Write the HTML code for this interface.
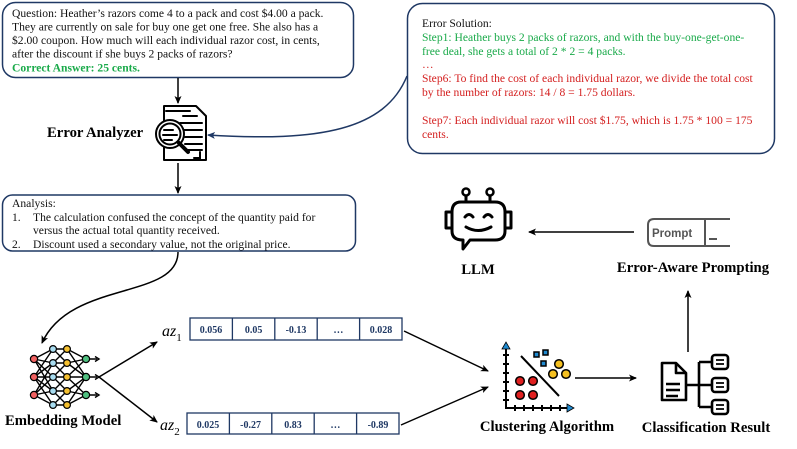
<!DOCTYPE html>
<html><head><meta charset="utf-8"><style>
html,body{margin:0;padding:0;background:#fff;}
svg{display:block;font-family:"Liberation Serif",serif;}
</style></head><body>
<svg width="797" height="449" viewBox="0 0 797 449" xmlns="http://www.w3.org/2000/svg">
<defs>
<marker id="a" markerWidth="8" markerHeight="8" refX="7" refY="4" orient="auto" markerUnits="userSpaceOnUse"><path d="M0,0.5 L8,4 L0,7.5 L2,4z" fill="#000"/></marker>
<marker id="b" markerWidth="8" markerHeight="8" refX="7" refY="4" orient="auto" markerUnits="userSpaceOnUse"><path d="M0,0.5 L8,4 L0,7.5 L2,4z" fill="#1f3864"/></marker>
</defs>
<rect x="2.5" y="2.5" width="351" height="75" rx="13" fill="#fff" stroke="#1f3864" stroke-width="1.5"/>
<g font-size="11.6" fill="#111">
<text x="12" y="17">Question: Heather’s razors come 4 to a pack and cost $4.00 a pack.</text>
<text x="12" y="30.5">They are currently on sale for buy one get one free. She also has a</text>
<text x="12" y="44">$2.00 coupon. How much will each individual razor cost, in cents,</text>
<text x="12" y="57.5">after the discount if she buys 2 packs of razors?</text>
<text x="12" y="71.5" fill="#1aaa4a" font-weight="bold">Correct Answer: 25 cents.</text>
</g>
<line x1="178" y1="78" x2="178" y2="103" stroke="#000" stroke-width="1.5" marker-end="url(#a)"/>
<g fill="none" stroke="#000" stroke-width="2" stroke-linecap="round">
<path d="M164,106 H196 L206,116 V160 H164 Z" stroke-linejoin="round"/>
<path d="M166,111 H190 M183,116 H197 M180,123 H202 M184,130 H202 M185,137 H202 M185,144 H202 M188,150 H202 M200,152 V158 H194"/>
<circle cx="170" cy="134" r="14" fill="#fff"/>
<circle cx="170" cy="134" r="10.5"/>
<path d="M164,130 H173 M163,135 H177 M164,140 H172"/>
<path d="M179,143 L188,152" stroke-width="4"/>
</g>
<text x="47" y="137" font-size="14.7" font-weight="bold">Error Analyzer</text>
<line x1="178" y1="163" x2="178" y2="193" stroke="#000" stroke-width="1.5" marker-end="url(#a)"/>
<rect x="2.5" y="195" width="353" height="56" rx="10" fill="#fff" stroke="#1f3864" stroke-width="1.5"/>
<g font-size="11.6" fill="#111">
<text x="12" y="207">Analysis:</text>
<text x="12" y="221">1.</text><text x="33" y="221">The calculation confused the concept of the quantity paid for</text>
<text x="33" y="234">versus the actual total quantity received.</text>
<text x="12" y="248">2.</text><text x="33" y="248">Discount used a secondary value, not the original price.</text>
</g>
<path d="M178,252 C178,300 70,280 42,343" fill="none" stroke="#000" stroke-width="1.5" marker-end="url(#a)"/>
<rect x="407.5" y="3.5" width="367" height="150" rx="15" fill="#fff" stroke="#1f3864" stroke-width="1.5"/>
<g font-size="11.6">
<text x="422" y="27" fill="#111">Error Solution:</text>
<text x="422" y="41" fill="#1aaa4a">Step1: Heather buys 2 packs of razors, and with the buy-one-get-one-</text>
<text x="422" y="55" fill="#1aaa4a">free deal, she gets a total of 2 * 2 = 4 packs.</text>
<text x="422" y="68" fill="#d42020">…</text>
<text x="422" y="82" fill="#d42020">Step6: To find the cost of each individual razor, we divide the total cost</text>
<text x="422" y="96" fill="#d42020">by the number of razors: 14 / 8 = 1.75 dollars.</text>
<text x="422" y="124" fill="#d42020">Step7: Each individual razor will cost $1.75, which is 1.75 * 100 = 175</text>
<text x="422" y="138" fill="#d42020">cents.</text>
</g>
<path d="M407,76 C385,130 320,142 208,135" fill="none" stroke="#1f3864" stroke-width="1.5" marker-end="url(#b)"/>
<g fill="none" stroke="#000" stroke-width="3" stroke-linecap="round" stroke-linejoin="round">
<circle cx="466" cy="192" r="3.5" stroke-width="2.5"/><circle cx="490" cy="192" r="3.5" stroke-width="2.5"/>
<path d="M466,196 V202 M490,196 V202"/>
<path d="M461,202 H495 Q505,202 505,212 V231 Q505,240 495,240 H470 L463,249 V240 Q452,240 452,231 V212 Q452,202 461,202 Z"/>
<path d="M452,212 H446 V228 H452 M505,212 H511 V228 H505"/>
<path d="M465,217 Q469,212 473,217 M484,217 Q488,212 492,217"/>
<path d="M466,227 Q478,234 491,227"/>
</g>
<text x="478" y="274" font-size="14.7" font-weight="bold" text-anchor="middle">LLM</text>
<line x1="634" y1="232" x2="529" y2="232" stroke="#000" stroke-width="1.5" marker-end="url(#a)"/>
<path d="M730,219 H654 Q648,219 648,225 V240 Q648,246 654,246 H730" fill="none" stroke="#555" stroke-width="2"/>
<line x1="705" y1="219" x2="705" y2="246" stroke="#555" stroke-width="2"/>
<text x="652" y="237" font-family="Liberation Sans,sans-serif" font-size="11.5" font-weight="bold" fill="#555">Prompt</text>
<line x1="709" y1="239" x2="717" y2="239" stroke="#555" stroke-width="2"/>
<text x="693" y="272" font-size="14.7" font-weight="bold" text-anchor="middle">Error-Aware Prompting</text>
<line x1="688" y1="352" x2="688" y2="291" stroke="#000" stroke-width="1.5" marker-end="url(#a)"/>
<g stroke="#000" stroke-width="1.4">
<path d="M34,359 L53,349 M34,359 L53,363 M34,359 L53,377 M34,359 L53,391 M34,377 L53,349 M34,377 L53,363 M34,377 L53,377 M34,377 L53,391 M34,377 L53,405 M34,395 L53,363 M34,395 L53,377 M34,395 L53,391 M34,395 L53,405"/>
<path d="M53,349 L67,349 M53,349 L67,363 M53,363 L67,349 M53,363 L67,377 M53,363 L67,363 M53,377 L67,363 M53,377 L67,391 M53,377 L67,377 M53,391 L67,377 M53,391 L67,405 M53,391 L67,391 M53,405 L67,391 M53,405 L67,405"/>
<path d="M67,349 L86,359 M67,363 L86,359 M67,363 L86,377 M67,377 L86,359 M67,377 L86,377 M67,377 L86,395 M67,391 L86,377 M67,391 L86,395 M67,405 L86,395 M67,349 L86,377 M67,405 L86,377"/>
<path d="M86,359 H97 M86,377 H97 M86,395 H97"/>
</g>
<path d="M95,356.5 L99,359 L95,361.5 M95,374.5 L99,377 L95,379.5 M95,392.5 L99,395 L95,397.5" fill="none" stroke="#000" stroke-width="1.4"/>
<g stroke="#000" stroke-width="1.2">
<circle cx="34" cy="359" r="3.6" fill="#f06060"/><circle cx="34" cy="377" r="3.6" fill="#f06060"/><circle cx="34" cy="395" r="3.6" fill="#f06060"/>
<circle cx="53" cy="349" r="3.4" fill="#a8dcf0"/><circle cx="53" cy="363" r="3.4" fill="#a8dcf0"/><circle cx="53" cy="377" r="3.4" fill="#a8dcf0"/><circle cx="53" cy="391" r="3.4" fill="#a8dcf0"/><circle cx="53" cy="405" r="3.4" fill="#a8dcf0"/>
<circle cx="67" cy="349" r="3.4" fill="#f5c030"/><circle cx="67" cy="363" r="3.4" fill="#f5c030"/><circle cx="67" cy="377" r="3.4" fill="#f5c030"/><circle cx="67" cy="391" r="3.4" fill="#f5c030"/><circle cx="67" cy="405" r="3.4" fill="#f5c030"/>
<circle cx="86" cy="359" r="3.6" fill="#50c080"/><circle cx="86" cy="377" r="3.6" fill="#50c080"/><circle cx="86" cy="395" r="3.6" fill="#50c080"/>
</g>
<text x="5" y="425" font-size="14.7" font-weight="bold">Embedding Model</text>
<line x1="99" y1="377" x2="157" y2="342" stroke="#000" stroke-width="1.5" marker-end="url(#a)"/>
<line x1="99" y1="377" x2="157" y2="422" stroke="#000" stroke-width="1.5" marker-end="url(#a)"/>
<text x="162" y="336" font-size="16" font-style="italic">az<tspan font-size="11" font-style="normal" dy="5">1</tspan></text>
<text x="160" y="430" font-size="16" font-style="italic">az<tspan font-size="11" font-style="normal" dy="5">2</tspan></text>
<g fill="none" stroke="#1f3864" stroke-width="1.3">
<rect x="190" y="318" width="212" height="22"/>
<path d="M232.4,318 V340 M274.8,318 V340 M317.2,318 V340 M359.6,318 V340"/>
<rect x="187" y="413" width="212" height="21"/>
<path d="M229.4,413 V434 M271.8,413 V434 M314.2,413 V434 M356.6,413 V434"/>
</g>
<g font-size="10" font-weight="bold" fill="#1f3864" text-anchor="middle">
<text x="211" y="333">0.056</text><text x="253.6" y="333">0.05</text><text x="296" y="333">-0.13</text><text x="338.4" y="333">…</text><text x="381" y="333">0.028</text>
<text x="208" y="428">0.025</text><text x="250.6" y="428">-0.27</text><text x="293" y="428">0.83</text><text x="335.4" y="428">…</text><text x="378" y="428">-0.89</text>
</g>
<line x1="404" y1="331" x2="488" y2="371" stroke="#000" stroke-width="1.5" marker-end="url(#a)"/>
<line x1="401" y1="425" x2="488" y2="387" stroke="#000" stroke-width="1.5" marker-end="url(#a)"/>
<g stroke="#000" stroke-width="2" fill="none">
<path d="M506,348 V408 H568"/>
<path d="M503,355 H509 M503,364 H509 M503,373 H509 M503,382 H509 M503,391 H509 M503,400 H509 M515,405 V411 M524,405 V411 M533,405 V411 M542,405 V411 M551,405 V411 M560,405 V411"/>
<path d="M521,356 L559,396"/>
</g>
<path d="M502,349 L506,342 L510,349Z M567,404 L574,408 L567,412Z" fill="#1f8ad0" stroke="#000" stroke-width="0.8"/>
<g stroke="#000" stroke-width="1.5">
<circle cx="520" cy="381" r="4.3" fill="#e02020"/><circle cx="533" cy="381" r="4.3" fill="#e02020"/><circle cx="520" cy="395" r="4.3" fill="#e02020"/><circle cx="533" cy="395" r="4.3" fill="#e02020"/>
<circle cx="559" cy="364" r="4.3" fill="#f5c020"/><circle cx="553" cy="374" r="4.3" fill="#f5c020"/><circle cx="566" cy="374" r="4.3" fill="#f5c020"/>
<rect x="534" y="352" width="5" height="5" fill="#1f8ad0"/><rect x="543" y="350" width="5" height="5" fill="#1f8ad0"/><rect x="541" y="361" width="5" height="5" fill="#1f8ad0"/>
</g>
<text x="547" y="431" font-size="14.7" font-weight="bold" text-anchor="middle">Clustering Algorithm</text>
<line x1="575" y1="378" x2="636" y2="378" stroke="#000" stroke-width="1.5" marker-end="url(#a)"/>
<g stroke="#000" stroke-width="2.6" fill="none" stroke-linejoin="round">
<path d="M662,363 H676 L686,373 V400 H662 Z"/>
<path d="M676,363 V373 H686"/>
<path d="M666,384 H680 M666,390 H680 M666,396 H678"/>
<path d="M686,385 H699 M699,362 V407 M699,362 H712 M699,385 H712 M699,407 H712"/>
<rect x="712" y="355" width="16" height="14" rx="3"/>
<rect x="712" y="378" width="16" height="14" rx="3"/>
<rect x="712" y="400" width="16" height="14" rx="3"/>
<path d="M716,360 H724 M716,364 H724 M716,383 H724 M716,387 H724 M716,405 H724 M716,409 H724" stroke-width="1.8"/>
</g>
<text x="706" y="432" font-size="14.7" font-weight="bold" text-anchor="middle">Classification Result</text>
</svg>
</body></html>
